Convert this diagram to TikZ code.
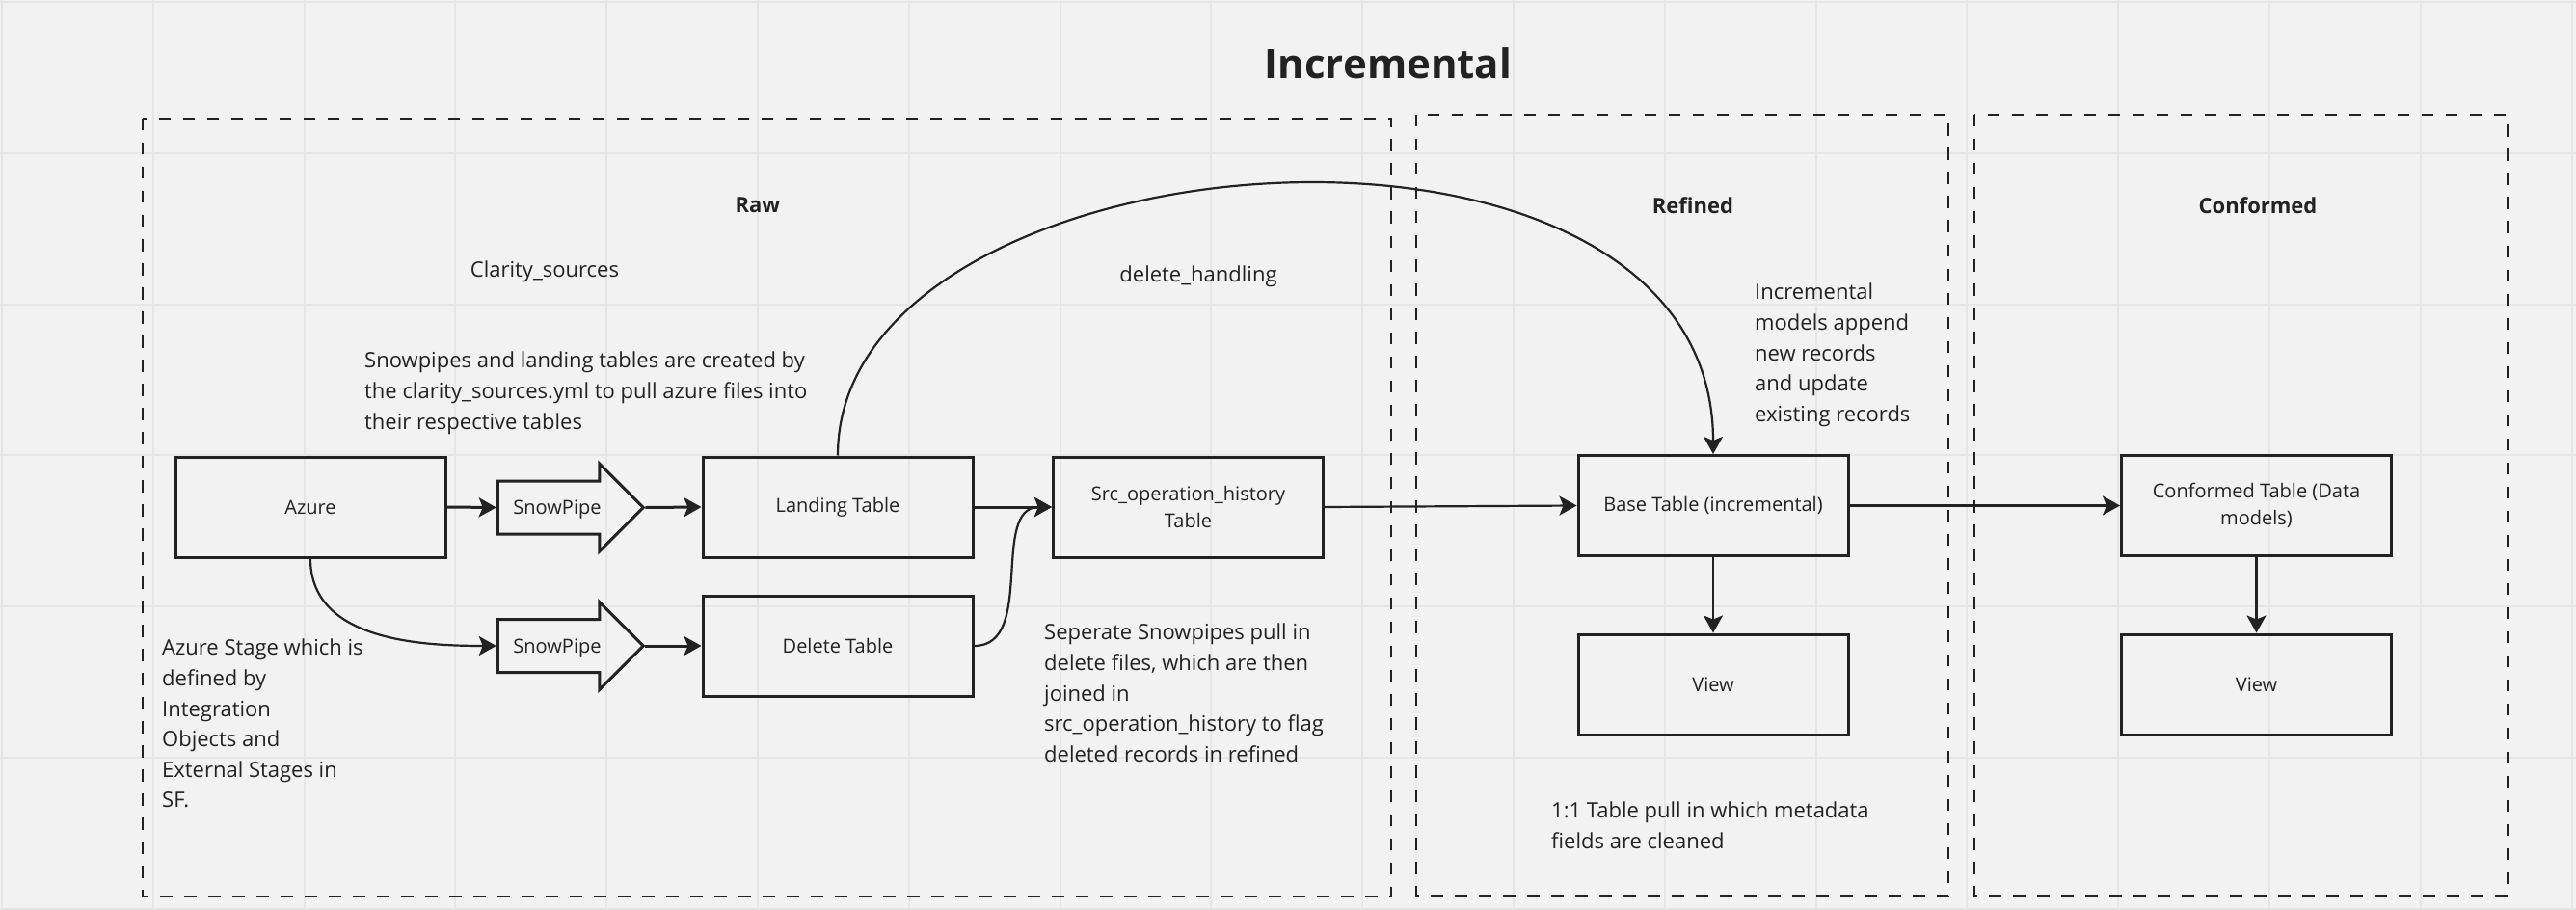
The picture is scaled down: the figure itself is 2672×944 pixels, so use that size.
\documentclass[tikz,border=0pt]{standalone}
\usepackage{fontspec}
\setmainfont{Open Sans}
\usetikzlibrary{positioning,arrows.meta,shapes.arrows}
\definecolor{paper}{HTML}{F2F2F2}
\definecolor{gridcol}{HTML}{E6E6E6}
\definecolor{ink}{HTML}{222222}

\begin{document}
\begin{tikzpicture}[x=1pt,y=-1pt,>={Stealth[length=18pt,width=20pt,inset=4pt]},
  gridline/.style={draw=gridcol,line width=2pt},
  zone/.style={draw=ink,line width=2.7pt,dash pattern=on 12.5pt off 12.5pt},
  table/.style={draw=ink,line width=3pt,minimum width=280pt,minimum height=104pt,
    align=center,inner sep=0pt,text=ink,font=\fontsize{20}{28}\selectfont},
  pipe/.style={single arrow,draw=ink,line width=3pt,minimum height=151pt,
    single arrow head extend=18pt,single arrow tip angle=90,text height=15.2pt,
    text depth=0.8pt,inner ysep=18pt,inner xsep=8pt,text=ink,font=\fontsize{20}{24}\selectfont},
  heading/.style={text=ink,font=\bfseries\fontsize{22}{26}\selectfont},
  plain/.style={text=ink,font=\fontsize{22}{26}\selectfont},
  note/.style={anchor=north west,align=left,inner sep=0pt,text=ink,font=\fontsize{22}{31.6}\selectfont},
  flow/.style={->,draw=ink,line width=3pt},
  thinflow/.style={->,draw=ink,line width=2.2pt}]

\useasboundingbox (0,0) rectangle (2672,944);
\fill[paper] (0,0) rectangle (2672,944);
\foreach \gx in {0,...,17} \draw[gridline] (2+156.8*\gx,0) -- (2+156.8*\gx,944);
\foreach \gy in {0,...,6} \draw[gridline] (0,2+156.8*\gy) -- (2672,2+156.8*\gy);

\draw[zone] (148,123) rectangle (1443,930);
\draw[zone] (1469,119) rectangle (2021,929);
\draw[zone] (2048,119) rectangle (2601,929);

\node[text=ink,font=\bfseries\fontsize{42}{50}\selectfont] (title) at (1440,66) {Incremental};
\node[heading] (rawlabel) at (786,213) {Raw};
\node[heading] (reflabel) at (1756,213) {Refined};
\node[heading] (conflabel) at (2342,213) {Conformed};
\node[plain] (clarity) at (565,282) {Clarity\_sources};
\node[plain] (delhandling) at (1243,287) {delete\_handling};

\node[note] (pipenote) at (378,365) {Snowpipes and landing tables are created by\\the clarity\_sources.yml to pull azure files into\\their respective tables};
\node[note] (azurenote) at (168,663) {Azure Stage which is\\defined by\\Integration\\Objects and\\External Stages in\\SF.};
\node[note] (deletenote) at (1083,647) {Seperate Snowpipes pull in\\delete files, which are then\\joined in\\src\_operation\_history to flag\\deleted records in refined};
\node[note] (incrnote) at (1820,294) {Incremental\\models append\\new records\\and update\\existing records};
\node[note] (pullnote) at (1609,832) {1:1 Table pull in which metadata\\fields are cleaned};

\node[table] (azure) at (322,526) {Azure};
\node[pipe] (pipeA) at (578,526.5) {SnowPipe};
\node[table] (landing) at (869,526) {Landing Table};
\node[table] (src) at (1232.5,526) {Src\_operation\_history\\Table};
\node[pipe] (pipeB) at (578,670) {SnowPipe};
\node[table] (delete) at (869,670) {Delete Table};
\node[table] (base) at (1777,524.5) {Base Table (incremental)};
\node[table] (view1) at (1777,710) {View};
\node[table] (conf) at (2340.5,524.5) {Conformed Table (Data\\models)};
\node[table] (view2) at (2340.5,710) {View};

\draw[flow] (azure.east) -- (pipeA.tail);
\draw[flow] (pipeA.tip) -- (landing.west);
\draw[flow] (landing.east) -- (src.west);
\draw[thinflow] (delete.east) to[out=0,in=180] (src.west);
\draw[thinflow] (azure.south) to[out=-90,in=180] (pipeB.tail);
\draw[flow] (pipeB.tip) -- (delete.west);
\draw[thinflow] (landing.north) to[out=90,in=90,out looseness=0.96,in looseness=1.15] (base.north);
\draw[thinflow] (src.east) -- (base.west);
\draw[thinflow] (base.south) -- (view1.north);
\draw[thinflow] (base.east) -- (conf.west);
\draw[thinflow] (conf.south) -- (view2.north);

\end{tikzpicture}
\end{document}
